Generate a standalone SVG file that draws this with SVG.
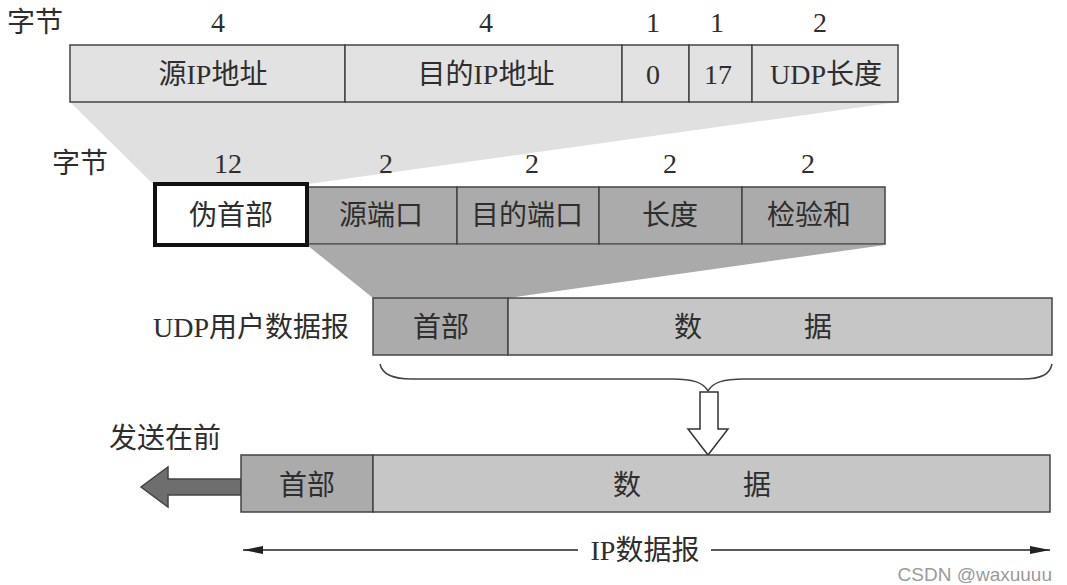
<svg xmlns="http://www.w3.org/2000/svg" width="1067" height="585" viewBox="0 0 1067 585">
<style>
text{font-family:"Liberation Serif","Noto Sans CJK SC",serif;font-size:28px;fill:#2e2e2e;text-anchor:middle;dominant-baseline:central}
.lt{fill:#e2e2e2;stroke:#444;stroke-width:1.5}
.dk{fill:#ababab;stroke:#444;stroke-width:1.5}
.md{fill:#c6c6c6;stroke:#444;stroke-width:1.5}
.ln{stroke:#444;stroke-width:1.5;fill:none}
.wm{font-family:"Liberation Sans","Noto Sans CJK SC",sans-serif;font-size:19px;fill:#9a9a9a;text-anchor:end}
</style>
<defs>
<marker id="ah" viewBox="0 0 20 8" refX="20" refY="4" markerWidth="20" markerHeight="8" markerUnits="userSpaceOnUse" orient="auto-start-reverse">
<path d="M0,0 L20,4 L0,8 Z" fill="#222"/>
</marker>
</defs>
<rect width="1067" height="585" fill="#fff"/>
<g id="connectors">
<polygon points="70,102 898,102 308,184 153,184" fill="#e0e0e0"/>
<polygon points="307,245 885,245 508,298 373,298" fill="#aaaaaa"/>
<path class="ln" d="M380,364 C382,374 392,379 412,379 L672,379 C692,379 703,382 708,391 C713,382 724,379 744,379 L1022,379 C1042,379 1050,374 1052,364"/>
<polygon points="700,392 718,392 718,429 728,429 708,455 688,429 700,429" fill="#fff" stroke="#333" stroke-width="1.5"/>
<polygon points="241,479 168,479 168,467 141,487 168,507 168,495 241,495" fill="#6e6e6e" stroke="#444" stroke-width="1.5"/>
<line x1="578" y1="550" x2="243" y2="550" stroke="#222" stroke-width="1.5" marker-end="url(#ah)"/>
<line x1="711" y1="550" x2="1050" y2="550" stroke="#222" stroke-width="1.5" marker-end="url(#ah)"/>
<text x="645" y="550">IP数据报</text>
</g>
<g id="pseudo-header">
<text x="35" y="22">字节</text>
<text x="218" y="22">4</text>
<text x="486" y="22">4</text>
<text x="653" y="22">1</text>
<text x="717" y="22">1</text>
<text x="820" y="22">2</text>
<rect class="lt" x="70" y="45" width="275" height="57"/>
<rect class="lt" x="345" y="45" width="277" height="57"/>
<rect class="lt" x="622" y="45" width="67" height="57"/>
<rect class="lt" x="689" y="45" width="63" height="57"/>
<rect class="lt" x="752" y="45" width="146" height="57"/>
<text x="213" y="74">源IP地址</text>
<text x="486" y="74">目的IP地址</text>
<text x="653" y="74">0</text>
<text x="718" y="74">17</text>
<text x="826" y="74">UDP长度</text>
</g>
<g id="udp-header">
<text x="80" y="163">字节</text>
<text x="228" y="163">12</text>
<text x="386" y="163">2</text>
<text x="532" y="163">2</text>
<text x="670" y="163">2</text>
<text x="808" y="163">2</text>
<rect class="dk" x="307" y="187" width="150" height="57"/>
<rect class="dk" x="457" y="187" width="142" height="57"/>
<rect class="dk" x="599" y="187" width="143" height="57"/>
<rect class="dk" x="742" y="187" width="143" height="57"/>
<rect x="155" y="184" width="152" height="61" fill="#fff" stroke="#111" stroke-width="4"/>
<text x="231" y="215">伪首部</text>
<text x="381" y="215">源端口</text>
<text x="527" y="215">目的端口</text>
<text x="670" y="215">长度</text>
<text x="809" y="215">检验和</text>
</g>
<g id="udp-datagram">
<text x="251" y="327">UDP用户数据报</text>
<rect class="dk" x="373" y="298" width="135" height="57"/>
<rect class="md" x="508" y="298" width="544" height="57"/>
<text x="441" y="327">首部</text>
<text x="688" y="327">数</text>
<text x="818" y="327">据</text>
</g>
<g id="ip-datagram">
<text x="165" y="438">发送在前</text>
<rect class="dk" x="241" y="455" width="132" height="57"/>
<rect class="md" x="373" y="455" width="677" height="57"/>
<text x="307" y="485">首部</text>
<text x="627" y="485">数</text>
<text x="757" y="485">据</text>
</g>
<text class="wm" x="1052" y="574">CSDN @waxuuuu</text>
</svg>
